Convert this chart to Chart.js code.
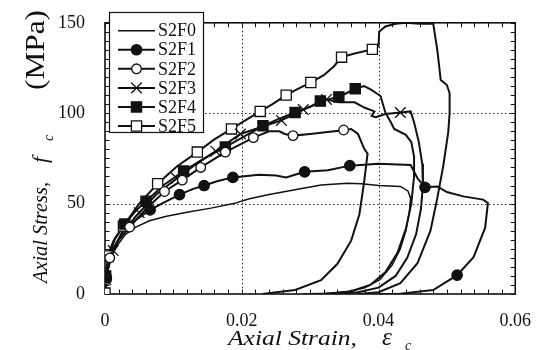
<!DOCTYPE html>
<html>
<head>
<meta charset="utf-8">
<script src="https://cdn.jsdelivr.net/npm/chart.js@4.4.0/dist/chart.umd.min.js"></script>
<style>
  html, body { margin: 0; padding: 0; background: #fff; }
  #wrap { width: 539px; height: 350px; }
</style>
</head>
<body>
<div id="wrap"><canvas id="stressStrainChart"></canvas></div>
<script>
// specimen names and axis ticks
const specimens = ['S2F0', 'S2F1', 'S2F2', 'S2F3', 'S2F4', 'S2F5'];
const strainTicks = [0, 0.02, 0.04, 0.06];
const stressTicks = [0, 50, 100, 150];

// [axial strain, axial stress (MPa)] for every test, loading + unloading branch
const curveS2F0 = [[0,0],[0.0002,6],[0.0005,14],[0.001,21],[0.0018,27],[0.003,33],[0.0045,37],[0.0065,40.5],
  [0.009,43],[0.012,45.2],[0.0155,47.5],[0.0188,50],[0.021,52.5],[0.024,55],[0.0278,57.6],[0.0316,60.3],
  [0.0355,61.2],[0.0375,61],[0.040,60],[0.0432,59.5],[0.0443,57],[0.0447,53],[0.0445,45],[0.044,35],
  [0.0432,25],[0.042,16],[0.0402,8],[0.038,3.5],[0.0355,1.2],[0.032,0.3],[0.029,0]];
const curveS2F1 = [[0,0],[0.0002,9],[0.0006,18],[0.0012,25],[0.0025,34],[0.0045,41],[0.0066,46.5],[0.0088,51],
  [0.0109,55],[0.0128,58],[0.0145,60],[0.0165,62.5],[0.0187,64.5],[0.0225,66],[0.025,65.5],[0.0265,64.5],
  [0.0292,67.6],[0.0326,68.5],[0.0358,71],[0.040,72],[0.0447,71.3],[0.0457,64],[0.0468,59],[0.0486,59.5],
  [0.050,56.4],[0.0524,54],[0.0553,52.2],[0.056,50.4],[0.0556,36.7],[0.0539,20.4],[0.0515,10.4],
  [0.048,2.2],[0.0432,0.2],[0.040,0]];
const curveS2F2 = [[0,0],[0.0002,8],[0.0007,20],[0.0018,29],[0.0036,37],[0.006,47],[0.0087,56.7],[0.0113,63],
  [0.014,70],[0.0176,78.5],[0.0217,86.5],[0.024,90],[0.0255,90],[0.0263,88.5],[0.0275,87.6],[0.030,88.5],
  [0.0345,90.4],[0.0349,90.7],[0.036,91.3],[0.037,88.5],[0.0379,80.4],[0.0384,77.6],[0.0379,62],[0.0372,44],
  [0.036,29.5],[0.034,16.7],[0.0316,7.6],[0.0278,2.2],[0.023,0]];
const curveS2F3 = [[0,0],[0.0001,8],[0.0005,17],[0.0012,24],[0.0025,34],[0.005,45],[0.0075,55],[0.0105,64],
  [0.013,71],[0.0162,79],[0.0198,88.5],[0.023,92.5],[0.0258,96],[0.029,102],[0.0324,107.6],[0.0342,106],
  [0.0365,106],[0.038,103],[0.0394,101],[0.039,98.5],[0.0396,97.8],[0.041,99.5],[0.0432,100.4],
  [0.0447,101],[0.0452,95],[0.0459,84],[0.0464,72],[0.0465,60],[0.0462,47],[0.0455,33],[0.0442,20],
  [0.0425,10],[0.040,3.5],[0.037,1],[0.034,0]];
const curveS2F4 = [[0,0],[0.0001,10],[0.0005,20],[0.0015,31],[0.0029,38.7],[0.0045,46],[0.006,51.3],[0.0085,60],
  [0.0115,68],[0.0145,75],[0.0176,81.3],[0.0205,87.5],[0.0231,93],[0.0255,97],[0.0278,100.4],[0.030,103.5],
  [0.0315,106.7],[0.0342,109],[0.0366,113.5],[0.0379,115],[0.0389,113],[0.0403,109.5],[0.041,100.4],
  [0.0418,95],[0.0423,91.3],[0.044,88],[0.0448,84],[0.0452,76],[0.0452,65],[0.0448,50],[0.044,36],
  [0.0428,23],[0.041,12],[0.0388,5],[0.036,1.5],[0.033,0.3],[0.030,0]];
const curveS2F5 = [[0,0],[0.0002,8],[0.0004,21],[0.0012,29],[0.0027,37.6],[0.005,50],[0.0077,61],[0.0105,70.5],
  [0.0135,78.5],[0.016,85.5],[0.0185,91.3],[0.0207,96.5],[0.0227,101],[0.0245,105],[0.0265,110],[0.028,113],
  [0.0301,117],[0.032,121],[0.0335,126],[0.0346,131],[0.0365,133],[0.0391,135.3],[0.040,137],[0.0401,145],
  [0.041,148],[0.0425,149.5],[0.044,150],[0.046,149.5],[0.048,149.5],[0.0486,135],[0.0491,118.4],
  [0.050,115.6],[0.0504,111],[0.0504,100],[0.0502,89.5],[0.0495,71.5],[0.0486,53],[0.0476,35],
  [0.0457,17],[0.0432,6],[0.040,1],[0.037,0]];

// marked points along each curve
const marksS2F1 = [[0.0002,9],[0.0066,46.5],[0.0109,55],[0.0145,60],[0.0187,64.5],[0.0292,67.6],[0.0358,71],
  [0.0468,59],[0.0515,10.4]];
const marksS2F2 = [[0.0002,8],[0.0007,20],[0.0036,37],[0.0087,56.7],[0.0113,63],[0.014,70],[0.0176,78.5],
  [0.0217,86.5],[0.0275,87.6],[0.0349,90.7]];
const marksS2F3 = [[0.0001,8],[0.0012,24],[0.005,45],[0.0105,64],[0.0162,79],[0.0198,88.5],[0.0258,96],
  [0.029,102],[0.0324,107.6],[0.0432,100.4]];
const marksS2F4 = [[0.0001,10],[0.0029,38.7],[0.006,51.3],[0.0115,68],[0.0176,81.3],[0.0231,93],[0.0278,100.4],
  [0.0315,106.7],[0.0342,109],[0.0366,113.5]];
const marksS2F5 = [[0,0.5],[0.0004,21],[0.0027,37.6],[0.0077,61],[0.0135,78.5],[0.0185,91.3],[0.0227,101],
  [0.0265,110],[0.0301,117],[0.0346,131],[0.0391,135.3]];

const curves = [curveS2F0, curveS2F1, curveS2F2, curveS2F3, curveS2F4, curveS2F5];
const marks = [null, marksS2F1, marksS2F2, marksS2F3, marksS2F4, marksS2F5];

const SERIF = "'Liberation Serif', 'Times New Roman', serif";
const INK = '#111';

// marker look for each specimen (S2F0 has none)
const markerStyles = [
  null,
  { pointStyle: 'circle', radius: 5.2, fill: INK },
  { pointStyle: 'circle', radius: 4.8, fill: '#fff' },
  { pointStyle: 'crossRot', radius: 7.5, fill: INK },
  { pointStyle: 'rect', radius: 7.2, fill: INK },
  { pointStyle: 'rect', radius: 7.2, fill: '#fff' }
];

const toXY = pairs => pairs.map(p => ({ x: p[0], y: p[1] }));

const datasets = [];
specimens.forEach((name, i) => {
  datasets.push({
    label: name,
    data: toXY(curves[i]),
    showLine: true,
    borderColor: INK,
    borderWidth: i === 0 ? 1.5 : 2,
    pointRadius: 0,
    tension: 0,
    order: 1
  });
  const m = markerStyles[i];
  if (m) {
    datasets.push({
      label: name + ' marks',
      data: toXY(marks[i]),
      showLine: false,
      pointStyle: m.pointStyle,
      pointRadius: m.radius,
      pointBorderWidth: 1.3,
      pointBorderColor: INK,
      pointBackgroundColor: m.fill,
      order: 0
    });
  }
});

// draws text squeezed/stretched to a given width
function fitText(ctx, text, x, y, width) {
  const w = ctx.measureText(text).width;
  ctx.save();
  ctx.translate(x, y);
  ctx.scale(width / w, 1);
  ctx.fillText(text, 0, 0);
  ctx.restore();
}

const framePlugin = {
  id: 'frame',
  beforeDatasetsDraw(chart) {
    const { ctx, chartArea: a, scales: { x, y } } = chart;
    ctx.save();
    ctx.strokeStyle = '#222';

    // dotted grid at inner major ticks
    ctx.lineWidth = 1;
    ctx.setLineDash([1.5, 2.5]);
    ctx.beginPath();
    strainTicks.slice(1, -1).forEach(v => {
      const px = Math.round(x.getPixelForValue(v)) + 0.5;
      ctx.moveTo(px, a.top); ctx.lineTo(px, a.bottom);
    });
    stressTicks.slice(1, -1).forEach(v => {
      const py = Math.round(y.getPixelForValue(v)) + 0.5;
      ctx.moveTo(a.left, py); ctx.lineTo(a.right, py);
    });
    ctx.stroke();
    ctx.setLineDash([]);

    // inward minor ticks on all four sides
    ctx.strokeStyle = INK;
    ctx.lineWidth = 1;
    ctx.beginPath();
    for (let i = 0; i <= 30; i++) {
      const px = Math.round(x.getPixelForValue(i * 0.002)) + 0.5;
      ctx.moveTo(px, a.bottom); ctx.lineTo(px, a.bottom - 4.5);
      ctx.moveTo(px, a.top); ctx.lineTo(px, a.top + 4.5);
    }
    for (let s = 0; s <= 150; s += 5) {
      const py = Math.round(y.getPixelForValue(s)) + 0.5;
      ctx.moveTo(a.left, py); ctx.lineTo(a.left + 4.5, py);
      ctx.moveTo(a.right, py); ctx.lineTo(a.right - 4.5, py);
    }
    ctx.stroke();

    ctx.lineWidth = 1.6;
    ctx.strokeRect(a.left, a.top, a.width, a.height);
    ctx.restore();
  },
  afterDraw(chart) {
    const ctx = chart.ctx;
    ctx.save();
    ctx.fillStyle = INK;
    ctx.textBaseline = 'alphabetic';
    ctx.textAlign = 'left';

    // x axis title
    ctx.font = `italic 22px ${SERIF}`;
    fitText(ctx, 'Axial Strain,', 228, 345, 129);
    ctx.font = `italic 25px ${SERIF}`;
    ctx.fillText('\u03b5', 382, 345);
    ctx.font = `italic 14px ${SERIF}`;
    ctx.fillText('c', 405, 350);

    // y axis title, reading bottom to top
    ctx.save();
    ctx.translate(47, 0);
    ctx.rotate(-Math.PI / 2);
    ctx.font = `italic 22px ${SERIF}`;
    fitText(ctx, 'Axial Stress,', -283, 0, 101);
    ctx.fillText('f', -163, 0);
    ctx.font = `italic 14px ${SERIF}`;
    ctx.fillText('c', -141, 6);
    ctx.font = `27px ${SERIF}`;
    fitText(ctx, '(MPa)', -90, -3, 80);
    ctx.restore();

    // legend box
    const bx = 109.5, by = 12.5, bw = 94, bh = 120;
    ctx.fillStyle = '#fff';
    ctx.fillRect(bx, by, bw, bh);
    ctx.strokeStyle = INK;
    ctx.lineWidth = 1.2;
    ctx.strokeRect(bx, by, bw, bh);

    ctx.font = `18px ${SERIF}`;
    ctx.textBaseline = 'middle';
    specimens.forEach((name, i) => {
      const ly = 30.7 + i * 19.06;
      ctx.strokeStyle = INK;
      ctx.lineWidth = i === 0 ? 1.5 : 2;
      ctx.beginPath();
      ctx.moveTo(118, ly); ctx.lineTo(155, ly);
      ctx.stroke();
      const m = markerStyles[i];
      if (m) {
        ctx.fillStyle = m.fill;
        ctx.lineWidth = 1.3;
        Chart.helpers.drawPoint(ctx, { pointStyle: m.pointStyle, radius: m.radius, rotation: 0, borderWidth: 1.3 }, 136.5, ly);
      }
      ctx.fillStyle = INK;
      ctx.fillText(name, 158, ly + 1);
    });
    ctx.restore();
  }
};

new Chart(document.getElementById('stressStrainChart'), {
  type: 'scatter',
  data: { datasets: datasets },
  options: {
    responsive: true,
    maintainAspectRatio: false,
    animation: false,
    layout: { padding: { top: 19, right: 20, left: 0, bottom: 0 } },
    plugins: {
      legend: { display: false },
      tooltip: { enabled: false }
    },
    scales: {
      x: {
        type: 'linear',
        min: 0,
        max: 0.06,
        afterBuildTicks: s => { s.ticks = strainTicks.map(v => ({ value: v })); },
        afterFit: s => { s.height = 56; },
        ticks: {
          color: INK,
          font: { family: SERIF, size: 18 },
          padding: 8,
          maxRotation: 0,
          callback: v => (v === 0 ? '0' : v.toFixed(2))
        },
        grid: { display: false },
        border: { display: false }
      },
      y: {
        type: 'linear',
        min: 0,
        max: 150,
        afterBuildTicks: s => { s.ticks = stressTicks.map(v => ({ value: v })); },
        afterFit: s => { s.width = 105; },
        ticks: {
          color: INK,
          font: { family: SERIF, size: 18 },
          padding: 12
        },
        grid: { display: false },
        border: { display: false }
      }
    }
  },
  plugins: [framePlugin]
});
</script>
</body>
</html>
